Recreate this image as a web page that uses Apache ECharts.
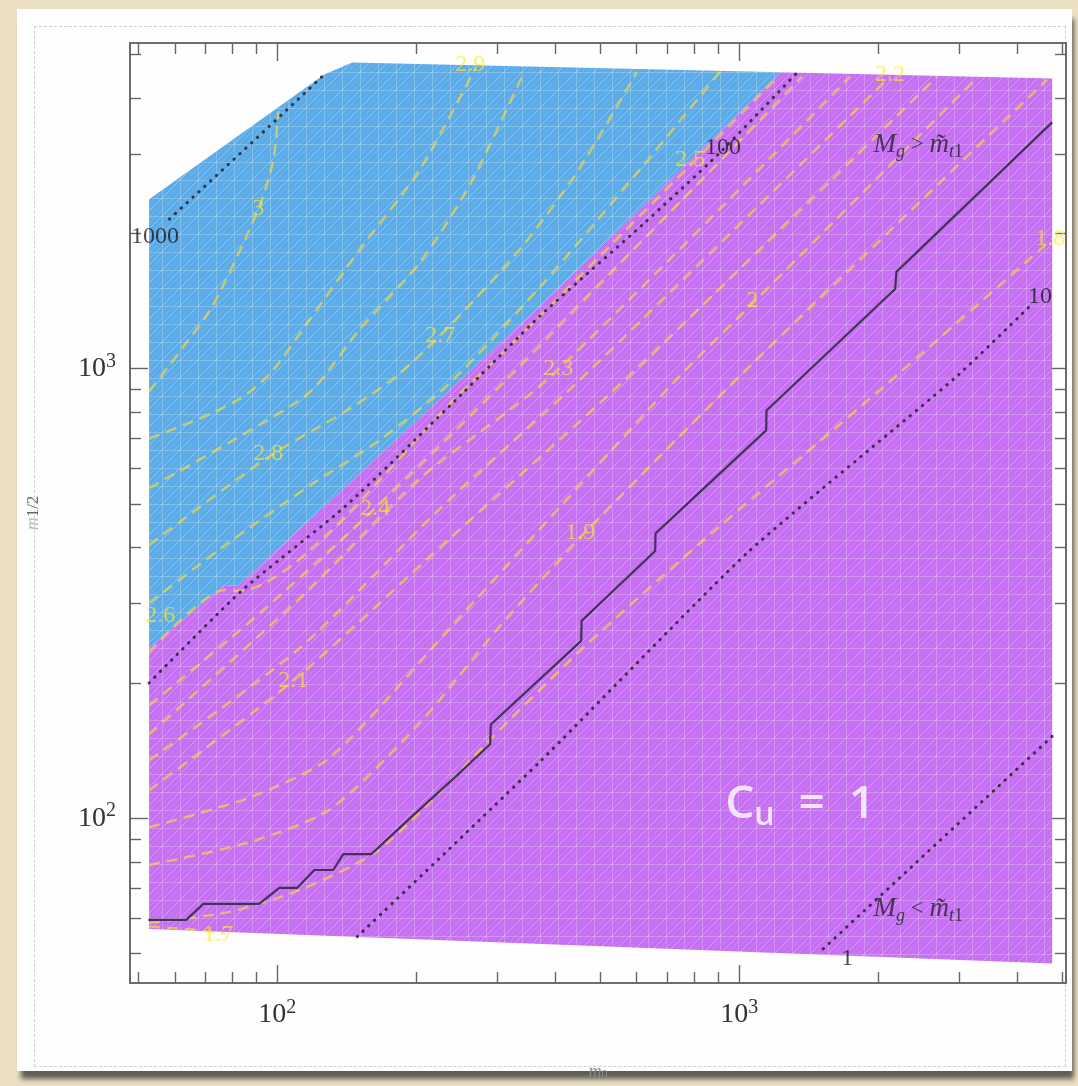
<!DOCTYPE html>
<html>
<head>
<meta charset="utf-8">
<title>m0 - m1/2 plane, Cu = 1</title>
<script src="https://cdn.jsdelivr.net/npm/echarts@6/dist/echarts.min.js"></script>
<style>
html, body { margin: 0; padding: 0; }
body { width: 1078px; height: 1086px; background: #ece0c2; position: relative; overflow: hidden; }
.card { position: absolute; left: 17px; top: 9px; width: 1055px; height: 1062px; background: #fefefe;
  box-shadow: 3px 9px 5px -1px rgba(50, 50, 50, 0.75); }
.card .sketch { position: absolute; left: 17px; top: 17px; right: 6px; bottom: 4px; border: 1px dashed #cfcfcf; }
#main { position: absolute; left: 0; top: 0; width: 1078px; height: 1086px; }
</style>
</head>
<body>
<div class="card"><div class="sketch"></div></div>
<div id="main"></div>
<script>
// axis ranges (m0 horizontally, m1/2 vertically, both log)
const xRange = [48, 5100]
const yRange = [43, 5300]
const decadeTicks = [100, 1000]
const minorTicks = [50, 60, 70, 80, 90, 200, 300, 400, 500, 600, 700, 800, 900, 2000, 3000, 4000, 5000]

// regions [m0, m1/2]
const blueRegion = [[52.8, 239], [52.8, 2382], [126.4, 4510], [145.3, 4795], [1233, 4560],
  [371, 1379], [251.5, 950], [82.3, 328.6], [76.8, 330.3]]
const purpleRegion = [[52.8, 239], [76.8, 330.3], [82.3, 328.6], [251.5, 950], [371, 1379],
  [1233, 4560], [4760, 4418], [4760, 47.5], [52.8, 56.7]]

// solid line (Mg = m~t1)
const gluinoStop = [[52.6, 59.4], [63.5, 59.4], [69.2, 64.5], [91.4, 64.5], [101, 70], [110.5, 70],
  [120.3, 76.7], [132.2, 76.7], [139, 83.2], [159.8, 83.2], [197.9, 102], [249, 126.5], [289, 146],
  [290, 161.6], [455, 248], [456, 274.8], [658, 393], [659, 430], [1144, 729], [1146, 807],
  [2176, 1504], [2190, 1641], [4760, 3530]]

// dotted lines
const dot1000 = [[58.4, 2151], [87.4, 3155], [126.4, 4510]]
const dot100 = [[52.8, 200], [83.6, 320], [140.4, 494], [251.5, 880], [371, 1311], [620, 2097], [901, 2998], [1335, 4555]]
const dot10 = [[149, 54.5], [371, 133.8], [1041, 389], [2920, 950], [4265, 1379]]
const dot1 = [[1520, 51.2], [4760, 152]]
const dotLabels = [[54.4, 1962, '1000'], [923, 3106, '100'], [4482, 1444, '10'], [1713, 48.7, '1']]

// dashed contours
const c30 = [[52.8, 889], [62.1, 1105], [72.5, 1380], [91.0, 2263], [98.1, 2910], [100.5, 3734]]
const c29 = [[52.8, 699], [68.1, 775], [83.2, 858], [96.6, 975], [117.9, 1291], [151.2, 1845], [203.9, 2777], [269.6, 4697]]
const c28 = [[52.8, 542], [83.6, 710], [117.9, 889], [151.2, 1227], [203.9, 1725], [263, 2600], [342, 4560]]
const c27 = [[52.8, 405], [96.1, 638], [140.4, 803], [178.3, 950], [225.4, 1184], [335.7, 1845], [450, 2777], [600, 4560]]
const c26 = [[52.8, 301.2], [78.3, 409.3], [117.9, 550.4], [166.3, 692.3], [234.5, 922], [372.8, 1530], [610.6, 2777], [909.9, 4580]]
const c25 = [[52.8, 233.4], [76.8, 321.9], [82.3, 320.3], [261.7, 926], [380.3, 1345], [1196, 4395]]
const c24 = [[52.8, 178.1], [91.9, 286.3], [163.0, 489], [314.7, 950], [1369, 4464]]
const c23 = [[52.8, 153.6], [112.1, 309], [203.9, 570.3], [386.1, 950], [1739, 4464]]
const c22 = [[52.8, 134.5], [112.1, 239.4], [225.4, 489], [455, 950], [2122, 4464]]
const c21 = [[52.8, 115.4], [108.3, 202.3], [236.9, 420], [569.3, 950], [2683, 4464]]
const c20 = [[52.8, 95.5], [87.4, 111.3], [130.2, 136.6], [236.9, 265.2], [734.2, 950], [1083, 1415], [3291, 4464]]
const c19 = [[52.8, 78.7], [87.4, 88.5], [130.2, 104.7], [203.9, 163.3], [303.9, 267.9], [452.7, 420], [990, 950], [4642, 4395]]
const c18 = [[52.8, 58.5], [79.1, 61.9], [112.1, 69.3], [159.8, 82.8], [203.9, 103.1], [289.1, 149.7], [455, 237],
  [823.5, 409.3], [2070, 917], [4760, 1942]]
const c17 = [[52.8, 57.4], [64.8, 56.6], [77.2, 55.3]]
const contourLines = [c30, c29, c28, c27, c26, c25, c24, c23, c22, c21, c20, c19, c18, c17]
const contourLabels = [[91.0, 2263, '3'], [261.7, 4746, '2.9'], [95.6, 648, '2.8'], [225.4, 1184, '2.7'],
  [55.8, 282, '2.6'], [783.4, 2922, '2.5'], [163.0, 489, '2.4'], [405.7, 1000, '2.3'], [2122, 4510, '2.2'],
  [108.3, 202.3, '2.1'], [1067, 1415, '2'], [452.7, 431, '1.9'], [4713, 1942, '1.8'], [74.5, 55.0, '1.7']]

// text notes
const notes = [[2441, 3139, 'gt'], [2441, 62.8, 'lt'], [1355, 106.9, 'cu']]

function meshFill (base) {
  const c = document.createElement('canvas')
  c.width = 18
  c.height = 18
  const g = c.getContext('2d')
  g.fillStyle = base
  g.fillRect(0, 0, 18, 18)
  g.strokeStyle = 'rgba(255,255,255,0.12)'
  g.lineWidth = 1
  g.beginPath()
  for (let k = -18; k <= 18; k += 6) {
    g.moveTo(k, 18)
    g.lineTo(k + 18, 0)
  }
  g.stroke()
  g.strokeStyle = 'rgba(255,255,255,0.22)'
  g.beginPath()
  g.moveTo(0.5, 0); g.lineTo(0.5, 18)
  g.moveTo(0, 0.5); g.lineTo(18, 0.5)
  g.moveTo(0, 18); g.lineTo(18, 0)
  g.stroke()
  return { image: c, repeat: 'repeat' }
}

function regionSeries (points, fill) {
  return {
    type: 'custom',
    coordinateSystem: 'cartesian2d',
    silent: true,
    z: 1,
    data: points,
    renderItem: function (params, api) {
      if (params.dataIndex !== 0) return null
      return {
        type: 'polygon',
        shape: { points: points.map(p => api.coord(p)) },
        style: { fill: fill }
      }
    }
  }
}

function lineSeries (data, lineStyle, z, smooth) {
  return { type: 'line', data: data, symbol: 'none', silent: true, z: z, smooth: smooth || false, lineStyle: lineStyle }
}

const axisColor = '#666'
function makeAxis (pos, range, ticks, len, labels, extra) {
  const ax = {
    type: 'log',
    logBase: 10,
    position: pos,
    min: range[0],
    max: range[1],
    axisLine: { show: true, onZero: false, lineStyle: { color: axisColor, width: 1.6 } },
    axisTick: { show: true, inside: true, length: len, customValues: ticks, lineStyle: { color: axisColor, width: 1.4 } },
    axisLabel: { show: false },
    splitLine: { show: false },
    minorTick: { show: false }
  }
  if (labels) {
    ax.axisLabel = {
      show: true,
      customValues: ticks,
      margin: pos === 'bottom' ? 15 : 14,
      formatter: v => '{b|10}{s|' + Math.round(Math.log10(v)) + '}',
      rich: {
        b: { fontSize: 28, fontFamily: 'Liberation Serif', color: '#333', lineHeight: 34 },
        s: { fontSize: 20, fontFamily: 'Liberation Serif', color: '#333', lineHeight: 16, verticalAlign: 'top' }
      }
    }
  }
  return Object.assign(ax, extra || {})
}

const chart = echarts.init(document.getElementById('main'))

const dashStyle = { color: 'rgba(255,222,50,0.62)', width: 2.5, type: [11, 7] }
const dotStyle = { color: 'rgba(40,32,48,0.85)', width: 3, type: [0.5, 7.5], cap: 'round' }

const series = [
  regionSeries(blueRegion, meshFill('#5cabe6')),
  regionSeries(purpleRegion, meshFill('#c470f0'))
]
contourLines.forEach(l => series.push(lineSeries(l, dashStyle, 3, 0.25)))
series.push(lineSeries(dot1000, dotStyle, 4))
series.push(lineSeries(dot100, dotStyle, 4, 0.2))
series.push(lineSeries(dot10, dotStyle, 4, 0.2))
series.push(lineSeries(dot1, dotStyle, 4))
series.push(lineSeries(gluinoStop, { color: '#45325a', width: 2.2 }, 4))

series.push({
  type: 'scatter',
  silent: true,
  z: 6,
  symbolSize: 0,
  data: contourLabels.map(l => ({ value: [l[0], l[1]], name: l[2] })),
  label: { show: true, position: 'inside', formatter: '{b}', color: 'rgba(255,232,40,0.85)', fontFamily: 'Liberation Serif', fontSize: 24 }
})
series.push({
  type: 'scatter',
  silent: true,
  z: 6,
  symbolSize: 0,
  data: dotLabels.map(l => ({ value: [l[0], l[1]], name: l[2] })),
  label: { show: true, position: 'inside', formatter: '{b}', color: '#1c1c1c', fontFamily: 'Liberation Serif', fontSize: 24 }
})

const noteText = {
  gt: '{M|M}{sub|g}{op| > }{M|m\u0303}{sub|t}{sub2|1}',
  lt: '{M|M}{sub|g}{op| < }{M|m\u0303}{sub|t}{sub2|1}',
  cu: '{C|C}{u|u}{r|  =  1}'
}
const serif = 'Liberation Serif'
series.push({
  type: 'scatter',
  silent: true,
  z: 7,
  symbolSize: 0,
  data: notes.map(n => ({ value: [n[0], n[1]], name: n[2] })),
  label: {
    show: true,
    position: 'inside',
    formatter: p => noteText[p.name],
    rich: {
      M: { fontSize: 27, fontStyle: 'italic', fontFamily: serif, color: '#2a2230', lineHeight: 32 },
      op: { fontSize: 23, fontFamily: serif, color: '#2a2230', lineHeight: 32 },
      sub: { fontSize: 18, fontStyle: 'italic', fontFamily: serif, color: '#2a2230', lineHeight: 14, verticalAlign: 'bottom' },
      sub2: { fontSize: 18, fontFamily: serif, color: '#2a2230', lineHeight: 6, verticalAlign: 'bottom' },
      C: { fontSize: 46, fontWeight: 600, fontFamily: 'Open Sans', color: '#ffffff', lineHeight: 54 },
      u: { fontSize: 32, fontWeight: 600, fontFamily: 'Open Sans', color: '#ffffff', lineHeight: 30, verticalAlign: 'bottom' },
      r: { fontSize: 46, fontWeight: 600, fontFamily: 'Open Sans', color: '#ffffff', lineHeight: 54 }
    }
  }
})

chart.setOption({
  animation: false,
  backgroundColor: 'transparent',
  grid: { left: 130, right: 12, top: 43, bottom: 100, containLabel: false },
  xAxis: [
    makeAxis('bottom', xRange, decadeTicks, 18, true, {
      name: '{m|m}{s|0}', nameLocation: 'middle', nameGap: 80,
      nameTextStyle: { rich: { m: { fontSize: 18, fontStyle: 'italic', fontFamily: serif, color: '#888' }, s: { fontSize: 12, fontFamily: serif, color: '#888', verticalAlign: 'bottom', lineHeight: 8 } } }
    }),
    makeAxis('bottom', xRange, minorTicks, 11, false),
    makeAxis('top', xRange, decadeTicks, 18, false),
    makeAxis('top', xRange, minorTicks, 11, false)
  ],
  yAxis: [
    makeAxis('left', yRange, decadeTicks, 18, true, {
      name: '{m|m}{s|1/2}', nameLocation: 'middle', nameGap: 88, nameRotate: 90,
      nameTextStyle: { rich: { m: { fontSize: 18, fontStyle: 'italic', fontFamily: serif, color: '#bbb' }, s: { fontSize: 17, fontFamily: serif, color: '#666', verticalAlign: 'bottom', lineHeight: 10 } } }
    }),
    makeAxis('left', yRange, minorTicks, 11, false),
    makeAxis('right', yRange, decadeTicks, 18, false),
    makeAxis('right', yRange, minorTicks, 11, false)
  ],
  series: series
})
</script>
</body>
</html>
